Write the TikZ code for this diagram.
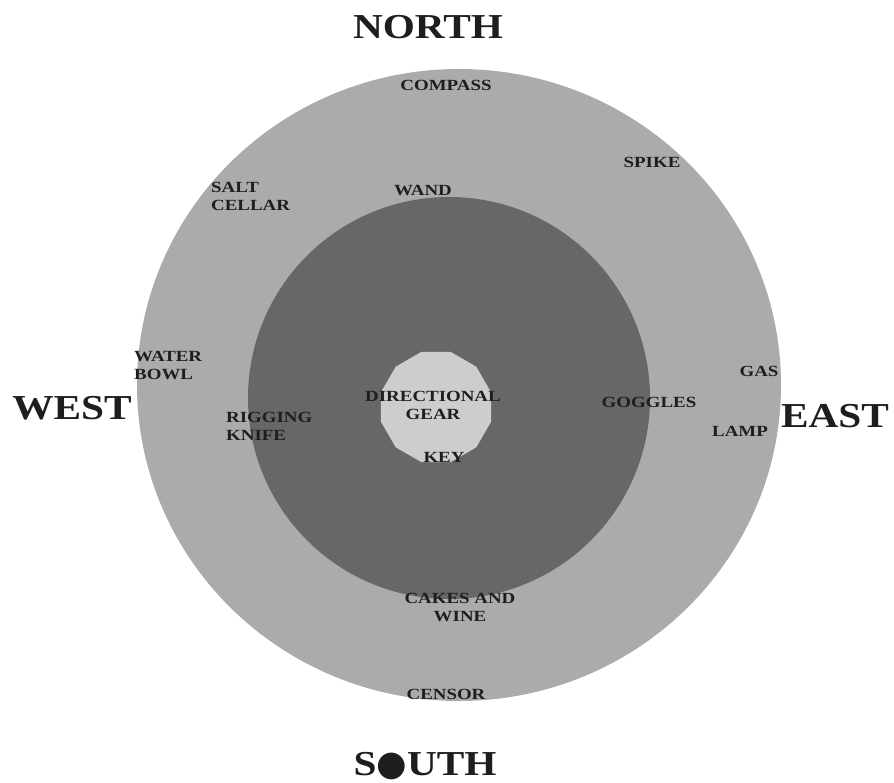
\documentclass[tikz,border=0pt]{standalone}
\usepackage{fontspec}
\setmainfont{Liberation Serif}
\newfontfamily\pointfont[FakeStretch=1.18]{Liberation Serif}
\newfontfamily\itemfont[FakeStretch=1.22]{Liberation Serif}
\newfontfamily\dotfont{DejaVu Sans}
\usetikzlibrary{positioning,shapes.geometric}

\definecolor{outerring}{HTML}{ABABAB}
\definecolor{innerring}{HTML}{676767}
\definecolor{corering}{HTML}{CDCDCD}
\definecolor{ink}{HTML}{1E1E1E}

\begin{document}
\begin{tikzpicture}[x=1pt, y=-1pt,
    point/.style={font=\pointfont\bfseries\fontsize{35}{35}\selectfont, inner sep=0pt, text=ink},
    item/.style={font=\itemfont\bfseries\fontsize{15.5}{18}\selectfont, inner sep=0pt, text=ink, align=center},
    itemleft/.style={item, align=left, anchor=west}
]
    \useasboundingbox[fill=white] (0,0) rectangle (894,783);

    % Rings
    \fill[outerring] (459,385) ellipse [x radius=322, y radius=316];
    \fill[innerring] (449,398) circle [radius=201];
    \node[regular polygon, regular polygon sides=12, minimum size=114pt,
          fill=corering, inner sep=0pt] (core) at (436,407) {};

    % Quarters
    \node[point] (north) at (428,27) {NORTH};
    \node[point] (west) at (72,408) {WEST};
    \node[point] (east) at (835,416) {EAST};
    \node[point] (south) at (425,766) {S{\dotfont ●}UTH};

    % Outer ring
    \node[item] (compass) at (446,85) {COMPASS};
    \node[item] (spike) at (652,162) {SPIKE};
    \node[itemleft] (salt) at (211,196) {SALT\\CELLAR};
    \node[itemleft] (water) at (134,366) {WATER\\BOWL};
    \node[item] (gas) at (759,371) {GAS};
    \node[item] (lamp) at (740,431) {LAMP};
    \node[item] (censor) at (446,694) {CENSOR};

    % Inner ring
    \node[item] (wand) at (423,191) {WAND};
    \node[itemleft] (rigging) at (226,426) {RIGGING\\KNIFE};
    \node[item] (goggles) at (649,402) {GOGGLES};
    \node[item] (cakes) at (460,607) {CAKES AND\\WINE};

    % Core
    \node[item] (gear) at (433,405) {DIRECTIONAL\\GEAR};
    \node[item] (key) at (444,457) {KEY};
\end{tikzpicture}
\end{document}
